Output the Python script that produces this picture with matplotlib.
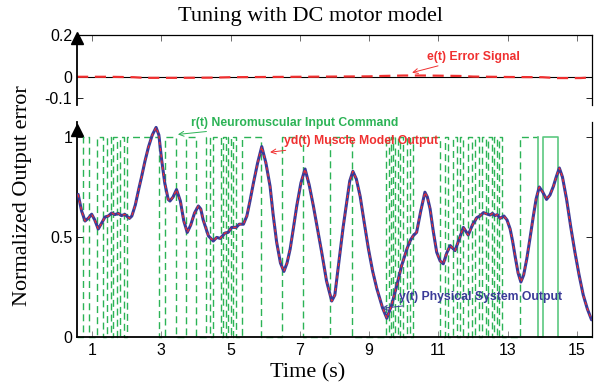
import numpy as np
import matplotlib
matplotlib.use('Agg')
import matplotlib.pyplot as plt

# ---------------------------------------------------------------------------
#  data
# ---------------------------------------------------------------------------
t_out = [0.60, 0.70, 0.80, 0.90, 0.99, 1.08, 1.18, 1.28, 1.375, 1.47, 1.57,
         1.66, 1.76, 1.85, 1.95, 2.08, 2.15, 2.25, 2.35, 2.43, 2.53, 2.63,
         2.74, 2.85, 2.93, 3.01, 3.10, 3.20, 3.25, 3.34, 3.44, 3.55, 3.65,
         3.75, 3.85, 3.96, 4.07, 4.14, 4.21, 4.36, 4.50, 4.60, 4.70, 4.84,
         4.93, 5.03, 5.16, 5.25, 5.37, 5.47, 5.56, 5.66, 5.78, 5.90, 6.02,
         6.14, 6.23, 6.33, 6.44, 6.54, 6.63, 6.72, 6.81, 6.91, 7.03, 7.15,
         7.27, 7.39, 7.51, 7.63, 7.77, 7.92, 8.01, 8.16, 8.25, 8.35, 8.44,
         8.53, 8.63, 8.74, 8.86, 8.98, 9.10, 9.22, 9.39, 9.51, 9.65, 9.80,
         9.94, 10.09, 10.18, 10.27, 10.37, 10.49, 10.61, 10.68, 10.76, 10.85,
         10.95, 11.05, 11.14, 11.24, 11.34, 11.48, 11.60, 11.72, 11.86, 11.98,
         12.11, 12.20, 12.30, 12.40, 12.49, 12.56, 12.63, 12.70, 12.78, 12.89,
         12.98, 13.07, 13.14, 13.21, 13.30, 13.38, 13.46, 13.55, 13.64, 13.74,
         13.82, 13.91, 14.01, 14.12, 14.22, 14.32, 14.40, 14.49, 14.58, 14.70,
         14.82, 14.94, 15.06, 15.18, 15.30, 15.42]

# y(t) physical system output
y_out = [0.713, 0.63, 0.58, 0.595, 0.614, 0.585, 0.54, 0.57, 0.60, 0.605, 0.62,
         0.612, 0.618, 0.607, 0.613, 0.593, 0.605, 0.66, 0.74, 0.80, 0.88, 0.95,
         1.01, 1.048, 1.01, 0.886, 0.77, 0.688, 0.68, 0.70, 0.737, 0.68, 0.58,
         0.523, 0.56, 0.62, 0.655, 0.64, 0.585, 0.506, 0.48, 0.498, 0.493, 0.52,
         0.523, 0.548, 0.548, 0.564, 0.564, 0.605, 0.68, 0.77, 0.87, 0.952, 0.87,
         0.754, 0.61, 0.474, 0.37, 0.328, 0.37, 0.44, 0.54, 0.655, 0.77, 0.84,
         0.76, 0.655, 0.54, 0.424, 0.28, 0.18, 0.21, 0.424, 0.55, 0.672, 0.78,
         0.828, 0.79, 0.704, 0.57, 0.44, 0.33, 0.243, 0.144, 0.094, 0.16, 0.259,
         0.358, 0.44, 0.48, 0.506, 0.523, 0.63, 0.724, 0.70, 0.64, 0.53,
         0.424, 0.38, 0.366, 0.42, 0.457, 0.432, 0.49, 0.548, 0.51, 0.56,
         0.597, 0.605, 0.622, 0.615, 0.61, 0.618, 0.607, 0.612, 0.593, 0.605,
         0.585, 0.54, 0.48, 0.407, 0.32, 0.275, 0.31, 0.39, 0.49, 0.605,
         0.69, 0.75, 0.725, 0.688, 0.71, 0.754, 0.80, 0.845, 0.80, 0.688,
         0.55, 0.424, 0.31, 0.21, 0.14, 0.086]

# yd(t) muscle model output (lies on top of y(t))
yd_out = list(y_out)

# r(t) switching instants of the binary input command (starts low)
r_switch = [0.73, 0.92, 1.13, 1.33, 1.44, 1.54, 1.62, 1.71, 1.81, 1.92, 2.02,
            2.94, 3.11, 3.42, 3.71, 4.00, 4.29, 4.41, 4.50, 4.72, 4.79, 4.87,
            4.93, 5.00, 5.08, 5.16, 5.32, 5.88, 6.49, 7.10, 7.87, 8.50, 9.49,
            9.56, 9.62, 9.70, 9.76, 9.84, 9.89, 9.97, 10.08, 10.18, 10.26,
            11.05, 11.19, 11.29, 11.41, 11.53, 11.62, 11.72, 11.86, 11.96,
            12.06, 12.18, 12.27, 12.37, 12.44, 12.54, 12.59, 12.68, 12.75,
            12.83, 13.36, 13.86, 14.03, 14.44]

# e(t) error signal
t_err = [0.57, 1.5, 2.2, 2.5, 3.5, 4.5, 5.0, 6.0, 7.0, 8.0, 9.0, 9.4, 10.0,
         10.6, 11.6, 12.0, 13.0, 14.0, 14.4, 15.1, 15.43]
e_err = [0.0, 0.0, -0.002, -0.005, -0.005, -0.004, -0.002, -0.001, 0.0, 0.001,
         0.002, 0.004, 0.006, 0.006, 0.004, 0.001, -0.001, -0.002, -0.006,
         -0.006, -0.003]

x_ticks = [1, 3, 5, 7, 9, 11, 13, 15]

# ---------------------------------------------------------------------------
#  styling
# ---------------------------------------------------------------------------
XMIN, XMAX = 0.567, 15.433
SOLID_FROM = 13.86
BLUE = '#3a3a98'
RED = '#f03030'
GREEN = '#2cb356'
GREEN_SOLID = '#5cc880'
SANS = 'Liberation Sans'
SERIF = 'Liberation Serif'

plt.rcParams['font.family'] = SANS
plt.rcParams['xtick.direction'] = 'in'
plt.rcParams['ytick.direction'] = 'in'

fig = plt.figure(figsize=(5.98, 3.92), dpi=100)
ax1 = fig.add_axes([77/598, 1-105/392, 515/598, 70/392])
ax2 = fig.add_axes([77/598, 1-337/392, 515/598, 215/392])

# --- top panel: error ------------------------------------------------------
ax1.axhline(0, color='k', lw=0.8, zorder=1)
ax1.plot(t_err, e_err, color=RED, lw=1.6, dashes=(5, 3), zorder=2)
ax1.set_xlim(XMIN, XMAX)
ax1.set_ylim(-0.135, 0.2)
ax1.set_yticks([-0.1, 0, 0.2])
ax1.set_yticklabels(['-0.1', '0', '0.2'])
ax1.set_xticks(x_ticks)
ax1.tick_params(axis='x', bottom=False, top=True, labelbottom=False,
                length=4, width=0.6, colors='#555555')
ax1.tick_params(axis='y', left=True, right=True, length=4, width=0.6,
                labelsize=11.5, labelcolor='k')
ax1.spines['bottom'].set_visible(False)
for s in ('top', 'right'):
    ax1.spines[s].set_linewidth(0.9)
ax1.spines['left'].set_linewidth(1.3)
ax1.plot([0], [0.96], marker='^', ms=8, color='k', transform=ax1.transAxes,
         clip_on=False)
ax1.annotate('e(t) Error Signal', xy=(10.24, 0.02), xytext=(10.66, 0.096),
             ha='left', va='center', fontsize=8.8, fontweight='bold',
             color=RED, arrowprops=dict(arrowstyle='->', color=RED, lw=0.7,
                                        shrinkA=1, shrinkB=0))

# --- bottom panel: outputs -------------------------------------------------
sw = np.array(r_switch)
r_x = np.concatenate([[XMIN], np.repeat(sw, 2), [XMAX]])
r_y = np.repeat(np.arange(len(sw) + 1) % 2, 2)
k = int(np.argmax(r_x >= SOLID_FROM))
ax2.plot(r_x[:k + 1], r_y[:k + 1], color=GREEN, lw=1.0, dashes=(5, 3),
         zorder=2, clip_on=False)
ax2.plot(r_x[k:], r_y[k:], color=GREEN_SOLID, lw=1.2, zorder=2, clip_on=False)

ax2.plot(t_out, y_out, color=BLUE, lw=2.2, zorder=3,
         solid_capstyle='round', solid_joinstyle='round')
ax2.plot(t_out, yd_out, color=RED, lw=0.9, dashes=(2.5, 2.5), zorder=4)

ax2.set_xlim(XMIN, XMAX)
ax2.set_ylim(0, 1.075)
ax2.set_xticks(x_ticks)
ax2.set_yticks([0, 0.5, 1])
ax2.set_yticklabels(['0', '0.5', '1'])
ax2.tick_params(axis='x', bottom=True, top=False, length=4, width=0.6,
                colors='#777777', labelsize=11.5, labelcolor='k', pad=4)
ax2.tick_params(axis='y', left=True, right=True, length=4, width=0.6,
                labelsize=11.5, labelcolor='k')
ax2.spines['top'].set_visible(False)
ax2.spines['right'].set_linewidth(0.9)
ax2.spines['bottom'].set_linewidth(1.3)
ax2.spines['left'].set_linewidth(1.3)
ax2.plot([0], [0.965], marker='^', ms=8, color='k', transform=ax2.transAxes,
         clip_on=False)

ax2.annotate('r(t) Neuromuscular Input Command', xy=(3.48, 1.013),
             xytext=(3.86, 1.072), ha='left', va='center', fontsize=8.8,
             fontweight='bold', color=GREEN,
             arrowprops=dict(arrowstyle='->', color=GREEN, lw=0.7,
                             shrinkA=1, shrinkB=0))
ax2.annotate('yd(t) Muscle Model Output', xy=(6.14, 0.924),
             xytext=(6.54, 0.978), ha='left', va='center', fontsize=8.8,
             fontweight='bold', color=RED,
             arrowprops=dict(arrowstyle='->', color=RED, lw=0.7,
                             shrinkA=1, shrinkB=0))
ax2.annotate('y(t) Physical System Output', xy=(9.36, 0.143),
             xytext=(9.86, 0.20), ha='left', va='center', fontsize=8.8,
             fontweight='bold', color=BLUE,
             arrowprops=dict(arrowstyle='->', color=BLUE, lw=0.7,
                             shrinkA=1, shrinkB=0))

# --- labels ----------------------------------------------------------------
fig.text(0.52, 0.958, 'Tuning with DC motor model', ha='center', va='center',
         family=SERIF, fontsize=16)
fig.text(0.515, 0.05, 'Time (s)', ha='center', va='center', family=SERIF,
         fontsize=16)
fig.text(0.037, 0.50, 'Normalized Output error', ha='center', va='center',
         rotation=90, family=SERIF, fontsize=16)

fig.savefig('out.png', dpi=100)
